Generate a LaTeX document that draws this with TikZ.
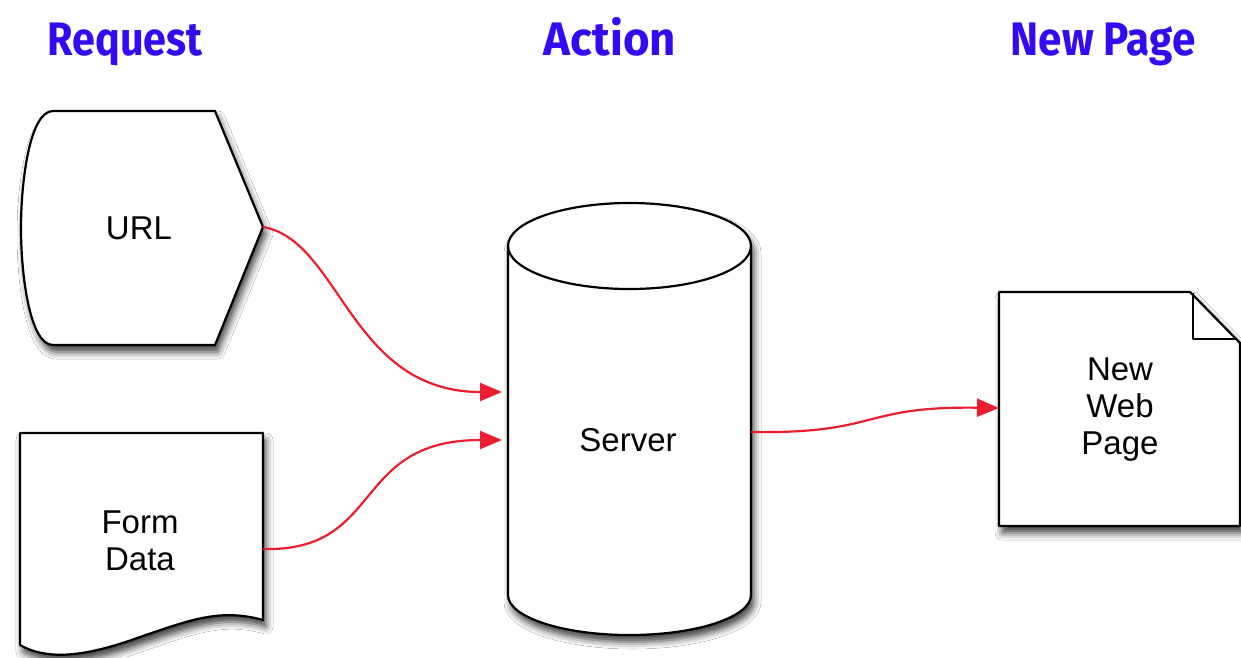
\documentclass[tikz,border=0pt]{standalone}
\usepackage{fontspec}
\setmainfont{Liberation Sans}
\newfontfamily\headfont{Fira Sans}
\usetikzlibrary{arrows.meta,shadows.blur}
\definecolor{headblue}{RGB}{52,10,245}
\definecolor{linkred}{RGB}{235,30,45}
\tikzset{
  boxshape/.style={draw=black, line width=2.2pt, fill=white, line join=round,
    blur shadow={shadow xshift=3pt, shadow yshift=-7pt, shadow blur radius=7pt, shadow opacity=75}},
  thinline/.style={draw=black, line width=2.2pt, line join=round},
  lbl/.style={font=\fontsize{33}{37}\selectfont, align=center, inner sep=0pt},
  head/.style={font=\headfont\bfseries\fontsize{47}{50}\selectfont, text=headblue, inner sep=0pt, anchor=base},
  link/.style={draw=linkred, line width=2.2pt, -{Triangle[length=22pt,width=18pt]}},
}
\begin{document}
\begin{tikzpicture}[x=1pt,y=-1pt]
\useasboundingbox[fill=white] (0,0) rectangle (1241,657);

% headings
\node[head, xscale=0.88] (hreq) at (125,55) {Request};
\node[head, xscale=0.97] (hact) at (610,55) {Action};
\node[head, xscale=0.9] (hnew) at (1103,55) {New Page};

% URL shape
\path[boxshape] (53,111) -- (215,111) -- (263,227) -- (215,345) -- (53,345)
  .. controls (30,345) and (21,276) .. (21,228)
  .. controls (21,180) and (30,111) .. (53,111) -- cycle;
\node[lbl] (url) at (139,228) {URL};

% Form data shape
\path[boxshape] (20,433) -- (263,433) -- (263,620)
  .. controls (220,608) and (190,620) .. (140,637)
  .. controls (90,655) and (50,662) .. (20,645) -- cycle;
\node[lbl] (form) at (140,541) {Form\\Data};

% Server cylinder
\path[boxshape] (508,246) -- (508,595)
  .. controls (508,617.1) and (562.6,635) .. (629.5,635)
  .. controls (696.4,635) and (751,617.1) .. (751,595)
  -- (751,246)
  .. controls (751,222.3) and (696.4,203) .. (629.5,203)
  .. controls (562.6,203) and (508,222.3) .. (508,246) -- cycle;
\draw[thinline] (508,246) .. controls (508,269.7) and (562.6,289) .. (629.5,289)
  .. controls (696.4,289) and (751,269.7) .. (751,246);
\node[lbl] (server) at (628,440) {Server};

% New web page
\path[boxshape] (999,292) -- (1190,292) -- (1240,343) -- (1240,526) -- (999,526) -- cycle;
\draw[thinline] (1193,293) -- (1193,339) -- (1236,339);
\node[lbl] (page) at (1120,410) {New\\Web\\Page};

% connection points
\coordinate (urlP) at (263,227);
\coordinate (formP) at (263,549);
\coordinate (srvIn1) at (502,392);
\coordinate (srvIn2) at (502,440);
\coordinate (srvOut) at (751,432);
\coordinate (pageIn) at (999,408);

% connectors
\draw[link] (urlP) .. controls (340,240) and (350,392) .. (srvIn1);
\draw[link] (formP) .. controls (385,552) and (350,440) .. (srvIn2);
\draw[link] (srvOut) .. controls (880,434) and (860,406) .. (pageIn);
\end{tikzpicture}
\end{document}
